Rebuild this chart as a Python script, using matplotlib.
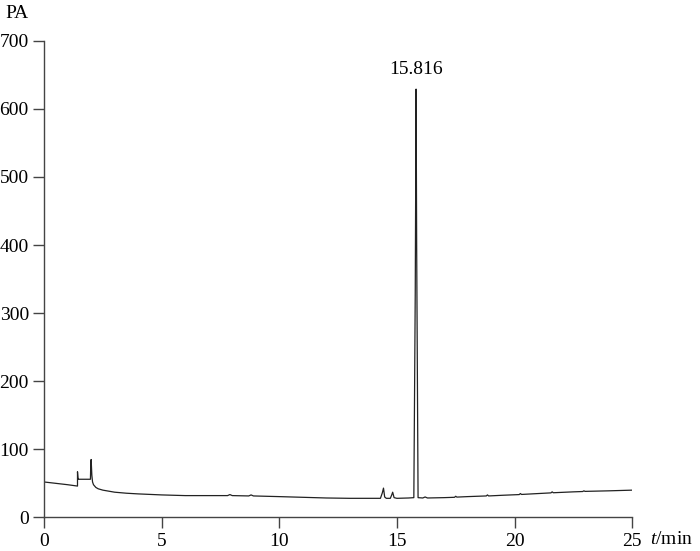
import matplotlib
matplotlib.use("Agg")
import matplotlib.pyplot as plt

# retention time (min) and detector signal (pA)
time = [0, 0.5, 1.0, 1.42, 1.42, 1.44, 1.46, 1.6, 1.8, 1.97, 1.98, 2.0, 2.03, 2.06,
        2.08, 2.1, 2.15, 2.2, 2.3, 2.5, 3.0, 3.5, 4.0, 5.0, 6.0, 7.0, 7.8, 7.9, 8.0,
        8.7, 8.8, 8.9, 10.0, 11.0, 12.0, 13.0, 13.7, 14.0, 14.3, 14.38, 14.43, 14.48,
        14.55, 14.72, 14.78, 14.82, 14.88, 15.0, 15.5, 15.72, 15.78, 15.816, 15.84,
        15.9, 16.1, 16.2, 16.3, 17.0, 17.45, 17.5, 17.55, 18.0, 18.8, 18.85, 18.9,
        19.5, 20.2, 20.25, 20.3, 21.0, 21.55, 21.6, 21.65, 22.5, 22.9, 22.95, 23.0,
        24.0, 25.0]
signal = [52, 50, 48, 46, 67, 58, 56, 56, 56, 56, 72, 85, 62, 52,
          50, 48, 46, 44, 42, 40, 37, 35.5, 34.5, 33, 32, 32, 32, 33.5, 32,
          31.5, 33, 31.5, 30.5, 29.5, 28.5, 28, 28, 28, 28, 36, 43, 30,
          28, 28, 33, 37, 29, 28, 28.5, 29, 330, 629, 400,
          29, 28.5, 30, 28.5, 29, 29.5, 31, 29.8, 30.5, 31.5, 33, 31.5,
          32.5, 33.5, 35, 33.7, 35, 36, 37.5, 36.2, 37.5, 38, 39, 38.2,
          39, 40]

peak_time = 15.816
peak_height = 629
peak_label = "15.816"

x_ticks = [0, 5, 10, 15, 20, 25]
y_ticks = [0, 100, 200, 300, 400, 500, 600, 700]

plt.rcParams['font.family'] = ['Liberation Serif', 'DejaVu Serif']
plt.rcParams['mathtext.fontset'] = 'custom'
plt.rcParams['mathtext.it'] = 'Liberation Serif:italic'
plt.rcParams['mathtext.rm'] = 'Liberation Serif'

fig = plt.figure(figsize=(7, 5.51), dpi=100)
ax = fig.add_axes([0.063, 0.061, 0.840, 0.865])

ax.plot(time, signal, color="#222222", linewidth=0.9)

ax.set_xlim(0, 25)
ax.set_ylim(0, 700)
ax.set_xticks(x_ticks)
ax.set_yticks(y_ticks)
ax.spines["top"].set_visible(False)
ax.spines["right"].set_visible(False)
for s in ("left", "bottom"):
    ax.spines[s].set_color("#444444")
    ax.spines[s].set_linewidth(1.0)
ax.tick_params(direction="out", length=8, width=1.0, color="#444444",
               labelsize=14, pad=3)

ax.annotate(peak_label, xy=(peak_time, peak_height), xytext=(0, 8),
            textcoords="offset points", ha="center", va="bottom", fontsize=14)

fig.text(5 / 700, 1 - 14 / 551, "PA", fontsize=14, va="center", ha="left")
fig.text(650 / 700, 1 - 540 / 551, r"$t$/min", fontsize=14, va="center", ha="left")

fig.savefig("out.png", dpi=100)
